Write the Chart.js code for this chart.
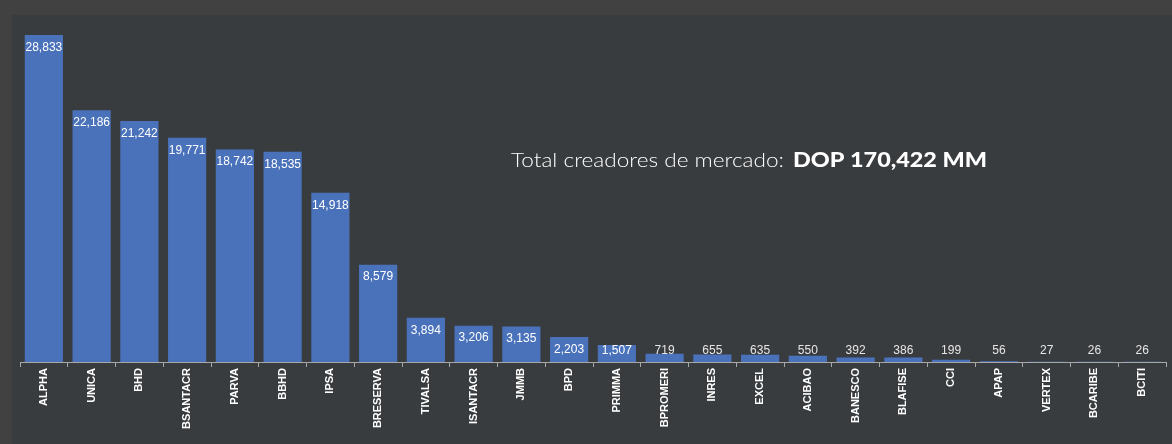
<!DOCTYPE html>
<html>
<head>
<meta charset="utf-8">
<script src="https://cdn.jsdelivr.net/npm/chart.js@4.4.1/dist/chart.umd.min.js"></script>
<style>
  html, body { margin: 0; padding: 0; background: #414141; width: 1172px; height: 444px; overflow: hidden; }
  #wrap { position: absolute; left: 12px; top: 15px; width: 1160px; height: 429px; background: #393c3f; }
  canvas { display: block; }
</style>
</head>
<body>
<div id="wrap"><canvas id="c" width="1160" height="429"></canvas></div>
<script>
const categories = ["ALPHA","UNICA","BHD","BSANTACR","PARVA","BBHD","IPSA","BRESERVA","TIVALSA","ISANTACR","JMMB","BPD","PRIMMA","BPROMERI","INRES","EXCEL","ACIBAO","BANESCO","BLAFISE","CCI","APAP","VERTEX","BCARIBE","BCITI"];
const values = [28833,22186,21242,19771,18742,18535,14918,8579,3894,3206,3135,2203,1507,719,655,635,550,392,386,199,56,27,26,26];
const titleLight = "Total creadores de mercado:";
const titleBold = "DOP 170,422 MM";

function stretchedText(ctx, txt, x, y, targetW) {
  const w = ctx.measureText(txt).width;
  const s = targetW / w;
  ctx.save();
  ctx.translate(x, y);
  ctx.scale(s, 1);
  ctx.fillText(txt, 0, 0);
  ctx.restore();
}

const labelPlugin = {
  id: 'valueLabels',
  afterDatasetsDraw(chart) {
    const ctx = chart.ctx;
    const meta = chart.getDatasetMeta(0);
    const y0 = chart.scales.y.getPixelForValue(0);
    ctx.save();
    ctx.font = '12px "Liberation Sans", Arial, sans-serif';
    ctx.textAlign = 'center';
    ctx.textBaseline = 'middle';
    meta.data.forEach((bar, i) => {
      const v = values[i];
      const txt = v.toLocaleString('en-US');
      if (v >= 1000) {
        ctx.fillStyle = '#ffffff';
        ctx.fillText(txt, bar.x, Math.min(bar.y + 12.5, y0 - 11));
      } else {
        ctx.fillStyle = '#e6e6e6';
        ctx.fillText(txt, bar.x, y0 - 11);
      }
    });
    // title text
    ctx.textAlign = 'left';
    ctx.textBaseline = 'alphabetic';
    ctx.fillStyle = '#ffffff';
    ctx.font = '300 20px "Lato", "Open Sans", sans-serif';
    stretchedText(ctx, titleLight, 499, 152, 273);
    ctx.font = '900 20px "Lato", "Open Sans", sans-serif';
    stretchedText(ctx, titleBold, 781, 152, 194);
    ctx.restore();
  }
};

new Chart(document.getElementById('c'), {
  type: 'bar',
  data: {
    labels: categories,
    datasets: [{
      data: values,
      backgroundColor: '#4a72bb',
      borderWidth: 0,
      categoryPercentage: 0.8,
      barPercentage: 1.0
    }]
  },
  options: {
    responsive: false,
    animation: false,
    devicePixelRatio: 1,
    layout: { padding: { left: 8, right: 6, top: 18, bottom: 0 } },
    plugins: { legend: { display: false }, tooltip: { enabled: false } },
    scales: {
      y: {
        display: false,
        min: 0,
        max: 29000
      },
      x: {
        afterFit(scale) { scale.height = 82; },
        border: { display: true, color: '#a8a8a8', width: 1 },
        grid: { display: true, drawOnChartArea: false, drawTicks: true, tickLength: 5, color: '#a8a8a8', offset: true },
        ticks: {
          color: '#ffffff',
          font: { family: '"Liberation Sans", Arial, sans-serif', size: 11, weight: 'bold' },
          minRotation: 90,
          maxRotation: 90,
          autoSkip: false,
          padding: 1
        }
      }
    }
  },
  plugins: [labelPlugin]
});
</script>
</body>
</html>
